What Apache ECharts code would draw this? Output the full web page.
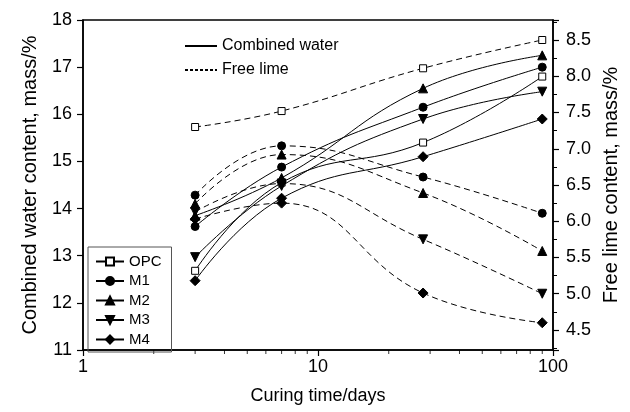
<!DOCTYPE html>
<html><head><meta charset="utf-8">
<script src="https://cdn.jsdelivr.net/npm/echarts@6/dist/echarts.min.js"></script>
<style>html,body{margin:0;padding:0;background:#fff}#c{width:630px;height:412px}</style>
</head><body><div id="c"></div>
<script>
// ---- data ----
const days = [3, 7, 28, 90];
const mixNames = ['OPC', 'M1', 'M2', 'M3', 'M4'];
// combined water content, mass/% (left axis)
const cwOPC = [12.68, 14.55, 15.40, 16.80];
const cwM1  = [13.62, 14.88, 16.15, 17.00];
const cwM2  = [13.85, 14.65, 16.55, 17.25];
const cwM3  = [12.97, 14.48, 15.90, 16.48];
const cwM4  = [12.47, 14.22, 15.10, 15.90];
// free lime content, mass/% (right axis)
const flOPC = [7.30, 7.52, 8.11, 8.50];
const flM1  = [6.36, 7.04, 6.61, 6.11];
const flM2  = [6.24, 6.92, 6.39, 5.59];
const flM3  = [6.13, 6.52, 5.75, 5.00];
const flM4  = [6.03, 6.25, 5.01, 4.60];
// minor tick positions on the log axis
const xMinorTicks = [2,3,4,5,6,7,8,9,20,30,40,50,60,70,80,90];

const cwData = [cwOPC, cwM1, cwM2, cwM3, cwM4];
const flData = [flOPC, flM1, flM2, flM3, flM4];

const FONT = 'Liberation Sans, Arial, sans-serif';
const marker = [
  {symbol: 'rect', size: 7, rot: 0, fill: '#fff'},
  {symbol: 'circle', size: 8, rot: 0, fill: '#000'},
  {symbol: 'triangle', size: 9, rot: 0, fill: '#000'},
  {symbol: 'triangle', size: 9, rot: 180, fill: '#000'},
  {symbol: 'diamond', size: 10, rot: 0, fill: '#000'}
];

const series = [];
mixNames.forEach((name, i) => {
  const m = marker[i];
  const base = {
    name: name, type: 'line', smooth: 0.45,
    symbol: m.symbol, symbolSize: m.size, symbolRotate: m.rot,
    itemStyle: {color: m.fill, borderColor: '#000', borderWidth: 1},
    emphasis: {disabled: true}, animation: false, z: 3
  };
  series.push(Object.assign({}, base, {
    yAxisIndex: 0,
    lineStyle: {color: '#000', width: 1, type: 'solid'},
    data: days.map((d, k) => [d, cwData[i][k]])
  }));
  series.push(Object.assign({}, base, {
    yAxisIndex: 1,
    lineStyle: {color: '#000', width: 1, type: [6, 4]},
    data: days.map((d, k) => [d, flData[i][k]])
  }));
});
// dummy series for the line-style legend
series.push({name: 'Combined water', type: 'line', data: [], symbol: 'none',
  lineStyle: {color: '#000', width: 1, type: 'solid', opacity: 1}, itemStyle: {color: '#000', opacity: 0}});
series.push({name: 'Free lime', type: 'line', data: [], symbol: 'none',
  lineStyle: {color: '#000', width: 1, type: [3, 2], opacity: 1}, itemStyle: {color: '#000', opacity: 0}});
// minor ticks on x-axis (positioned by the log scale)
series.push({name: 'minor', type: 'scatter', yAxisIndex: 0, silent: true, clip: false,
  symbol: 'rect', symbolSize: [1, 4], symbolOffset: [0, 2],
  itemStyle: {color: '#000'}, animation: false,
  data: xMinorTicks.map(v => [v, 11])});

const chart = echarts.init(document.getElementById('c'), null, {renderer: 'canvas'});
chart.setOption({
  backgroundColor: '#fff',
  animation: false,
  textStyle: {fontFamily: FONT, color: '#000'},
  grid: {left: 83, right: 77, top: 20, bottom: 62, show: true, borderColor: '#000', borderWidth: 1.5},
  legend: [{
    data: mixNames, orient: 'vertical', left: 88, top: 247,
    itemWidth: 28, itemHeight: 10, itemGap: 4.5,
    borderColor: '#555', borderWidth: 1, padding: [7, 10, 5, 7],
    textStyle: {fontFamily: FONT, fontSize: 15, color: '#000'},
    symbolRotate: 'inherit', selectedMode: false
  }, {
    data: ['Combined water', 'Free lime'], orient: 'vertical', left: 179, top: 33,
    itemWidth: 32, itemHeight: 10, itemGap: 8,
    itemStyle: {opacity: 0},
    textStyle: {fontFamily: FONT, fontSize: 16, color: '#000'}, selectedMode: false
  }],
  xAxis: {
    type: 'log', logBase: 10, min: 1, max: 100,
    name: 'Curing time/days', nameLocation: 'middle', nameGap: 37,
    nameTextStyle: {fontFamily: FONT, fontSize: 18, color: '#000'},
    axisLine: {lineStyle: {color: '#000', width: 1.5}},
    axisTick: {show: true, inside: false, length: 6, lineStyle: {color: '#000', width: 1.2}},
    axisLabel: {fontFamily: FONT, fontSize: 18, color: '#000', margin: 8},
    splitLine: {show: false}
  },
  yAxis: [{
    type: 'value', min: 11, max: 18, interval: 1, position: 'left',
    name: 'Combined water content, mass/%', nameLocation: 'middle', nameGap: 43,
    nameTextStyle: {fontFamily: FONT, fontSize: 20, color: '#000'},
    axisLine: {show: true, lineStyle: {color: '#000', width: 1.5}},
    axisTick: {show: true, inside: false, length: 6, lineStyle: {color: '#000', width: 1.2}},
    axisLabel: {fontFamily: FONT, fontSize: 18, color: '#000', margin: 11},
    splitLine: {show: false}
  }, {
    type: 'value', min: 4.224, max: 8.776, splitNumber: 9, position: 'right',
    name: 'Free lime content, mass/%', nameLocation: 'middle', nameGap: 44,
    nameTextStyle: {fontFamily: FONT, fontSize: 20, color: '#000'},
    axisLine: {show: true, lineStyle: {color: '#000', width: 1.5}},
    axisTick: {show: true, inside: false, length: 6, lineStyle: {color: '#000', width: 1.2}},
    minorTick: {show: true, splitNumber: 2, length: 4, lineStyle: {color: '#000', width: 1}},
    axisLabel: {fontFamily: FONT, fontSize: 18, color: '#000', margin: 13,
      showMinLabel: false, showMaxLabel: false, formatter: v => v.toFixed(1)},
    splitLine: {show: false}
  }],
  series: series
});
</script></body></html>
